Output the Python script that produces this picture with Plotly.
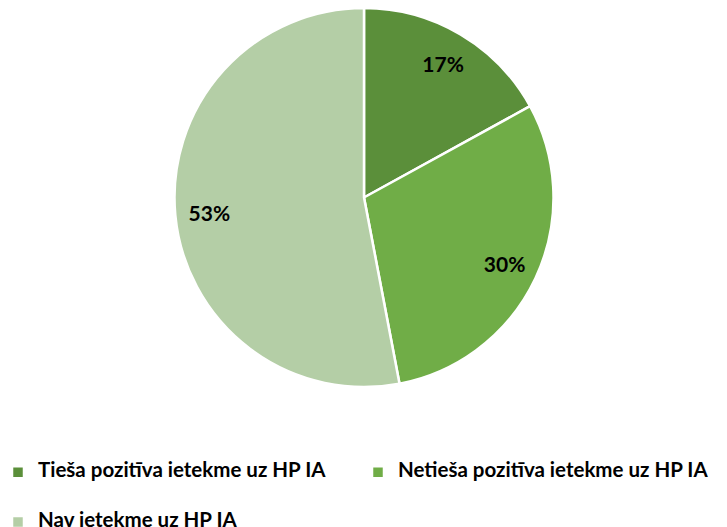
import plotly.graph_objects as go

labels = ["Tieša pozitīva ietekme uz HP IA", "Netieša pozitīva ietekme uz HP IA", "Nav ietekme uz HP IA"]
values = [17, 30, 53]
colors = ["#5B8F3A", "#70AD47", "#B4CEA6"]

# page body adds an 8px offset, so the figure is 8px smaller and everything is placed 8px up/left
W, H = 719, 519
MB = 69                      # bottom margin: legend sits below the plot area
PW, PH = W, H - MB           # plot area size
cx, cy, r = 356, 189, 190    # pie centre/radius in figure pixels
domain = dict(x=[(cx - r) / PW, (cx + r) / PW], y=[(PH - 379) / PH, 1])

# legend text drawn at 20.5px; empty lines (measured at the small legend font size) space the rows
legend_names = [
    "<span style='font-size:20.5px'>" + labels[0] + "</span><br> <br> ",
    "<span style='font-size:20.5px'>" + labels[1] + "</span><br> <br> ",
    "<span style='font-size:20.5px'>" + labels[2] + "</span><br> ",
]

fig = go.Figure()
fig.add_trace(go.Pie(
    labels=legend_names,
    values=values,
    sort=False,
    direction="clockwise",
    rotation=0,
    marker=dict(colors=colors, line=dict(color="white", width=2.5)),
    textinfo="none",
    domain=domain,
    hovertemplate="%{percent}<extra></extra>",
))
# transparent ring carrying the percent labels further out, as in the reference
fig.add_trace(go.Pie(
    labels=legend_names,
    values=values,
    sort=False,
    direction="clockwise",
    rotation=0,
    hole=0.64,
    marker=dict(colors=["rgba(0,0,0,0)"] * 3, line=dict(width=0)),
    texttemplate="%{percent:.0%}",
    textposition="inside",
    insidetextorientation="horizontal",
    textfont=dict(family="Lato", size=21, color="black", weight="bold"),
    domain=domain,
    showlegend=False,
    hoverinfo="skip",
))

fig.update_layout(
    width=W, height=H,
    margin=dict(l=0, r=0, t=0, b=MB, autoexpand=False),
    paper_bgcolor="white",
    plot_bgcolor="white",
    showlegend=True,
    legend=dict(
        orientation="h",
        x=-10 / PW, y=0, xanchor="left", yanchor="top",
        font=dict(family="Lato", size=12, color="black", weight="bold"),
        entrywidth=315, entrywidthmode="pixels",
        itemwidth=30,
        valign="top",
    ),
)

fig.write_html("out.html")
